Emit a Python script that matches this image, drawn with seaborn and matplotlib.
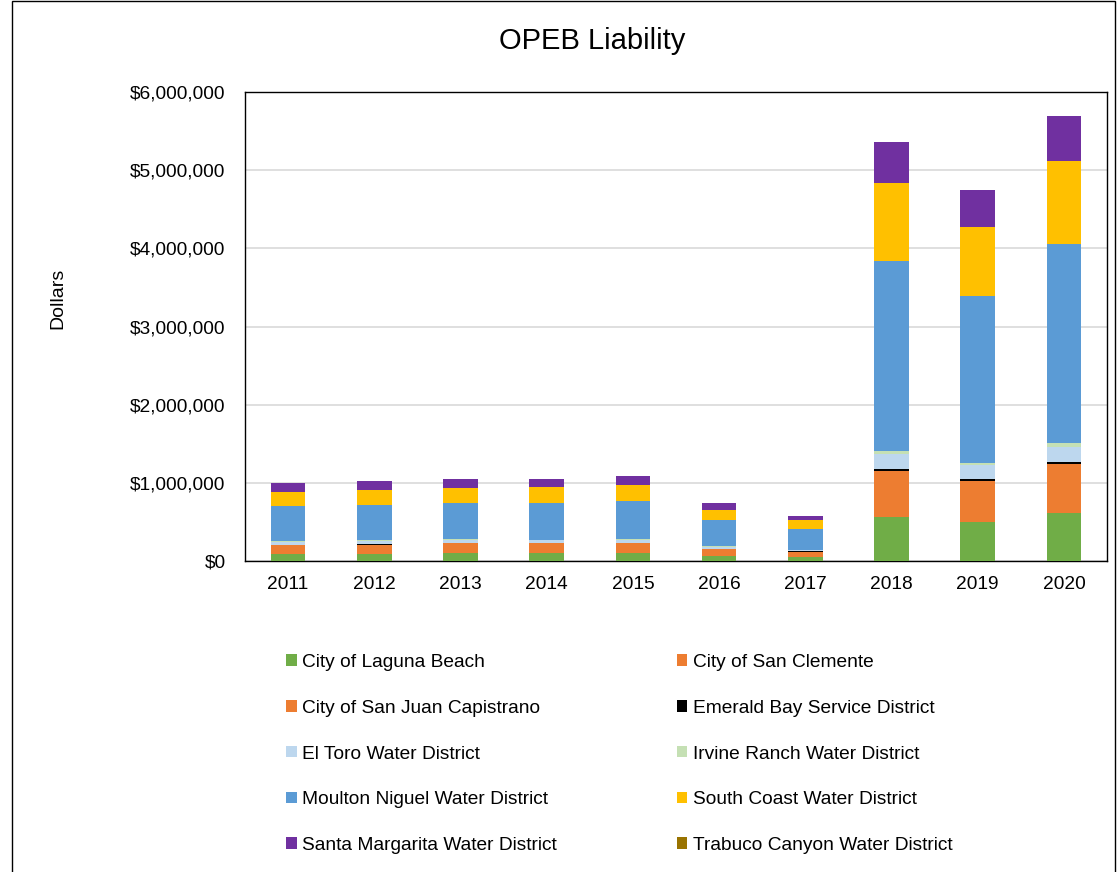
import numpy as np
import pandas as pd
import matplotlib
matplotlib.use("Agg")
import matplotlib.pyplot as plt
from matplotlib.patches import Patch, Rectangle
from matplotlib.ticker import FuncFormatter
import seaborn as sns

# data (values in dollars)
years = ["2011", "2012", "2013", "2014", "2015", "2016", "2017", "2018", "2019", "2020"]
laguna_beach = [90000, 90000, 100000, 100000, 100000, 70000, 50000, 567000, 500000, 610000]
san_clemente = [60000, 60000, 60000, 60000, 60000, 40000, 35000, 20000, 30000, 42000]
san_juan_capistrano = [55000, 60000, 65000, 65000, 65000, 40000, 35000, 568000, 495000, 585000]
emerald_bay = [3000, 3000, 3000, 3000, 5000, 3000, 3000, 20000, 25000, 25000]
el_toro = [35000, 45000, 40000, 35000, 40000, 25000, 15000, 200000, 175000, 200000]
irvine_ranch = [10000, 10000, 10000, 10000, 8000, 10000, 7000, 35000, 30000, 44000]
moulton_niguel = [450000, 450000, 465000, 470000, 490000, 335000, 265000, 2430000, 2140000, 2554000]
south_coast = [180000, 195000, 195000, 200000, 200000, 135000, 110000, 990000, 880000, 1060000]
santa_margarita = [110000, 110000, 105000, 105000, 115000, 80000, 60000, 530000, 475000, 570000]
trabuco_canyon = [0, 0, 0, 0, 0, 0, 0, 0, 0, 0]

series = [
    ("City of Laguna Beach", laguna_beach, "#70AD47"),
    ("City of San Clemente", san_clemente, "#ED7D31"),
    ("City of San Juan Capistrano", san_juan_capistrano, "#ED7D31"),
    ("Emerald Bay Service District", emerald_bay, "#000000"),
    ("El Toro Water District", el_toro, "#BDD7EE"),
    ("Irvine Ranch Water District", irvine_ranch, "#C5E0B4"),
    ("Moulton Niguel Water District", moulton_niguel, "#5B9BD5"),
    ("South Coast Water District", south_coast, "#FFC000"),
    ("Santa Margarita Water District", santa_margarita, "#7030A0"),
    ("Trabuco Canyon Water District", trabuco_canyon, "#997300"),
]

sns.set_style("white")
plt.rcParams["font.family"] = ["Liberation Sans", "DejaVu Sans"]
plt.rcParams["text.color"] = "black"
plt.rcParams["axes.labelcolor"] = "black"

fig = plt.figure(figsize=(11.17, 8.72), dpi=100)
ax = fig.add_axes([245 / 1117, 1 - 561 / 872, (1107 - 245) / 1117, (561 - 92) / 872])

bottom = np.zeros(len(years))
for name, vals, col in series:
    df = pd.DataFrame({"year": years, "value": vals})
    sns.barplot(data=df, x="year", y="value", order=years, color=col, saturation=1,
                width=0.4, errorbar=None, bottom=bottom, ax=ax, linewidth=0, zorder=3)
    bottom = bottom + np.array(vals)

ax.set_ylim(0, 6000000)
ax.set_xlim(-0.5, 9.5)
ax.set_yticks(np.arange(0, 6000001, 1000000))
ax.yaxis.set_major_formatter(FuncFormatter(lambda v, p: "${:,.0f}".format(v)))
ax.grid(axis="y", color="#D9D9D9", linewidth=1.2, zorder=0)
ax.set_axisbelow(True)
for s in ax.spines.values():
    s.set_visible(True)
    s.set_color("black")
    s.set_linewidth(1.0)
ax.tick_params(axis="both", length=0, labelsize=13.8, colors="black")
ax.tick_params(axis="y", pad=14)
ax.tick_params(axis="x", pad=10.5)
ax.set_xlabel("")
ax.set_ylabel("Dollars", fontsize=14)
ax.yaxis.set_label_coords(-0.207, 0.56)

fig.text(592 / 1117, 1 - 41 / 872, "OPEB Liability", fontsize=21, ha="center", va="center")

# legend, filled row by row like the original
handles = [Patch(facecolor=c, edgecolor="none", label=n) for n, v, c in series]
order = [0, 2, 4, 6, 8, 1, 3, 5, 7, 9]
fig.legend([handles[i] for i in order], [handles[i].get_label() for i in order],
           ncol=2, loc="upper left", bbox_to_anchor=(286 / 1117, 1 - 654 / 872),
           frameon=False, fontsize=13.8, handlelength=0.55, handleheight=0.55,
           handletextpad=0.3, labelspacing=1.5, columnspacing=6.25, borderpad=0,
           borderaxespad=0)

# chart outline
fig.patches.append(Rectangle((12 / 1117, -0.01), 1 - 14 / 1117, 1.0085, transform=fig.transFigure,
                             fill=False, edgecolor="black", linewidth=1.0))

fig.savefig("out.png", dpi=100)
